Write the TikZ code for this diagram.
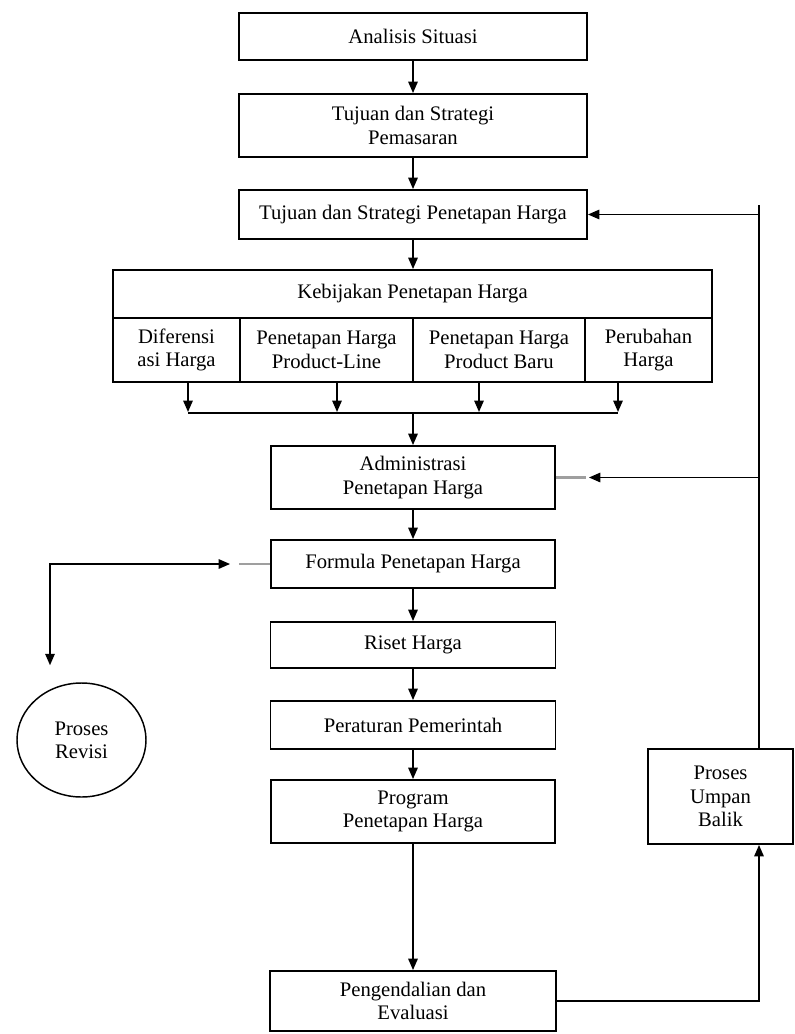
\documentclass[tikz,border=0pt]{standalone}
\usepackage{fontspec}
\setmainfont{Liberation Serif}
\usetikzlibrary{arrows.meta,calc,shapes.geometric}
\tikzset{
  >={Triangle[length=8.5pt,width=7pt]},
  box/.style 2 args={draw,line width=1.4pt,align=center,inner sep=0pt,
    minimum width=#1,minimum height=#2},
  oval/.style={ellipse,draw,line width=1.1pt,align=center,inner sep=0pt,
    minimum width=96.75pt,minimum height=85.5pt},
  flow/.style={->,line width=1.3pt},
  wire/.style={line width=1.3pt},
  stub/.style={draw=gray!75,line width=2.2pt},
}
\begin{document}
\begin{tikzpicture}[x=0.75pt,y=-0.75pt,font=\fontsize{15.5}{17.5}\selectfont]
  \useasboundingbox (0,0) rectangle (794,1034);
  % main column
  \node[box={261pt}{35.25pt}] (ana) at (413,36.5) {Analisis Situasi};
  \node[box={261pt}{47.25pt}] (pem) at (413,125.5) {Tujuan dan Strategi\\Pemasaran};
  \node[box={261pt}{36.75pt}] (tsh) at (413,214.5) {Tujuan dan Strategi Penetapan Harga};
  \node[box={449.25pt}{36pt}] (keb) at (412.5,294) {Kebijakan Penetapan Harga};
  \node[box={95.25pt}{48pt}] (dif) at (176.5,350) {Diferensi\\asi Harga};
  \node[box={129.75pt}{48pt}] (pl) at (326.5,350) {Penetapan Harga\\Product-Line};
  \node[box={129pt}{48pt}] (pb) at (499,350) {Penetapan Harga\\Product Baru};
  \node[box={95.25pt}{48pt}] (pu) at (648.5,350) {Perubahan\\Harga};
  \node[box={213pt}{47.25pt}] (adm) at (413,477.5) {Administrasi\\Penetapan Harga};
  \node[box={213pt}{36pt}] (frm) at (413,564) {Formula Penetapan Harga};
  \node[box={213.75pt}{34.5pt}] (ris) at (413,645) {Riset Harga};
  \node[box={213.75pt}{36pt}] (per) at (413,725) {Peraturan Pemerintah};
  \node[box={213pt}{47.25pt}] (prg) at (413,811.5) {Program\\Penetapan Harga};
  \node[box={214.5pt}{45pt}] (pen) at (413,1001) {Pengendalian dan\\Evaluasi};
  % side nodes
  \node[box={108.75pt}{71.25pt}] (umb) at (720.5,796.5) {Proses\\Umpan\\Balik};
  \node[oval] (rev) at (81.5,740) {Proses\\Revisi};

  \foreach \a/\b in {ana/pem,pem/tsh,tsh/keb,adm/frm,frm/ris,ris/per,per/prg,prg/pen}
    \draw[flow] (\a.south) -- (\a.south |- \b.north);

  % merge of the four policies
  \coordinate (jn) at (413,412);
  \foreach \n/\dx in {dif/11.5,pl/10.5,pb/-20,pu/-30.5} {
    \path ($(\n.south)+(\dx,0)$) coordinate (t);
    \draw[flow] (t) -- (t |- jn);
  }
  \draw[wire] ($(dif.south)+(11.5,30)$) -- ($(pu.south)+(-30.5,30)$);
  \draw[flow] (jn) -- (adm.north);

  % feedback loop
  \coordinate (fb) at (759,205);
  \draw[wire] (umb.north -| fb) -- (fb);
  \draw[flow] (fb |- tsh.east) -- (tsh.east);
  \draw[stub] (adm.east) -- ++(30,0) coordinate (as);
  \draw[flow] (fb |- adm.east) -- ($(as)+(3,0)$);
  \draw[flow] (pen.east) -| (umb.south -| fb);

  % revision
  \draw[stub] (frm.west) -- ++(-31,0) coordinate (fs);
  \draw[flow,<->] ($(fs)+(-9,0)$) -| ($(rev.north)+(-31.5,-17)$);
\end{tikzpicture}
\end{document}
